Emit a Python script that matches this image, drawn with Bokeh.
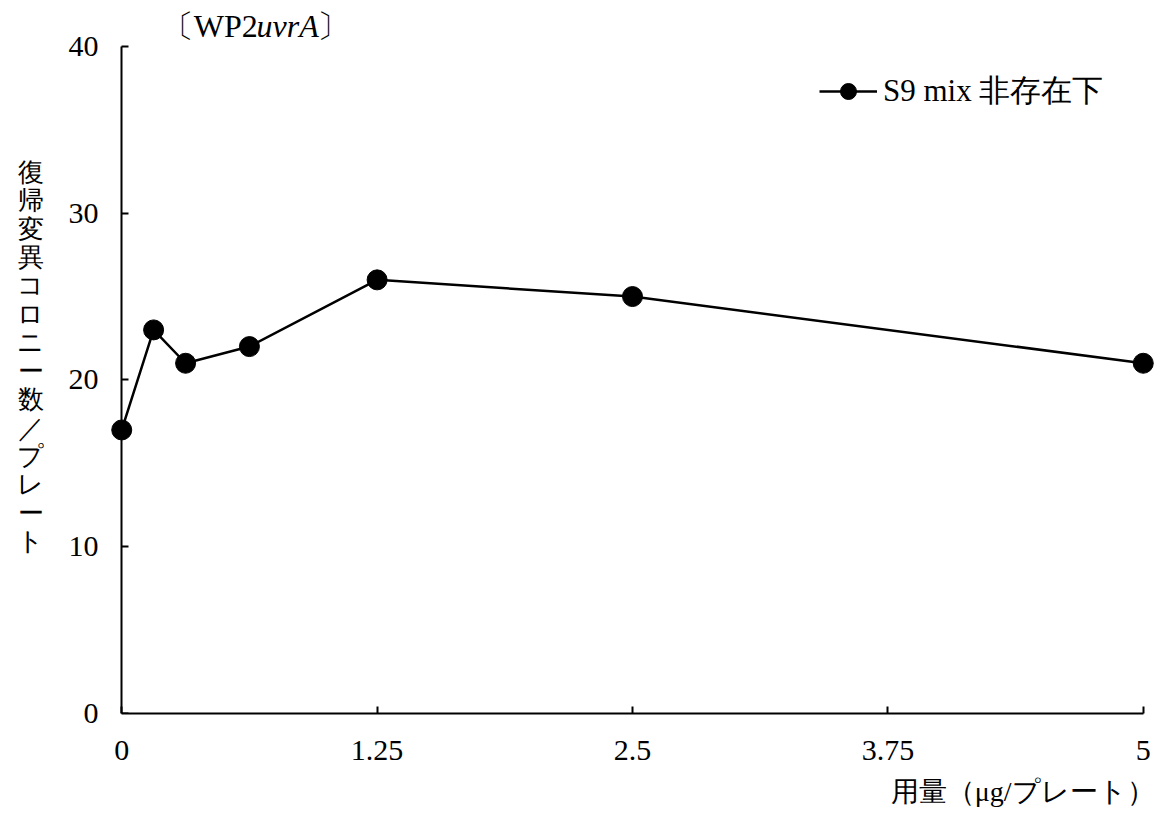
from bokeh.plotting import figure
from bokeh.models import Range1d, Label, Legend, LegendItem, FixedTicker, LinearAxis, Title
from bokeh.embed import file_html
from bokeh.resources import INLINE

# data
dose = [0, 0.156, 0.3125, 0.625, 1.25, 2.5, 5]
colonies = [17, 23, 21, 22, 26, 25, 21]
x_ticks = [0, 1.25, 2.5, 3.75, 5]
x_tick_labels = ["0", "1.25", "2.5", "3.75", "5"]
y_ticks = [0, 10, 20, 30, 40]
series_name = "S9 mix 非存在下"
x_title = "用量（μg/プレート）"
y_title = "復帰変異コロニー数／プレート"

SERIF = "Liberation Serif"

p = figure(width=1158, height=818, output_backend="svg", toolbar_location=None,
           x_range=Range1d(-0.055, 5.055), y_range=Range1d(0, 42.75))
p.min_border = 0
p.min_border_left = 110
p.min_border_right = 4
p.min_border_top = 0
p.min_border_bottom = 104
p.outline_line_color = None
p.grid.visible = False

def style(ax):
    ax.axis_line_color = "black"
    ax.axis_line_width = 2
    ax.major_tick_in = 7
    ax.major_tick_out = 0
    ax.major_tick_line_color = "black"
    ax.major_tick_line_width = 2
    ax.minor_tick_line_color = None
    ax.major_label_text_font = SERIF
    ax.major_label_text_font_size = "30px"
    ax.major_label_text_color = "black"

style(p.xaxis[0])
p.xaxis.ticker = FixedTicker(ticks=x_ticks)
p.xaxis.major_label_overrides = {t: l for t, l in zip(x_ticks, x_tick_labels)}
p.xaxis.bounds = (0, 5)
p.xaxis.major_label_standoff = 27

# left axis: tick labels + title only (outside frame)
ylab = p.yaxis[0]
style(ylab)
ylab.ticker = FixedTicker(ticks=y_ticks)
ylab.bounds = (0, 40)
ylab.axis_line_color = None
ylab.major_tick_line_color = None
ylab.major_label_standoff = 12
ylab.axis_label = "\n".join(y_title)
ylab.axis_label_orientation = "horizontal"
ylab.axis_label_text_font = SERIF
ylab.axis_label_text_font_style = "normal"
ylab.axis_label_text_font_size = "26px"
ylab.axis_label_text_line_height = 0.98
ylab.axis_label_text_color = "black"
ylab.axis_label_standoff = 22

# axis line + ticks at x = 0
yline = LinearAxis(ticker=FixedTicker(ticks=y_ticks), fixed_location=0, bounds=(0, 40))
style(yline)
yline.major_label_overrides = {t: "" for t in y_ticks}
yline.major_label_standoff = 0
p.add_layout(yline, "left")

r_line = p.line(dose, colonies, line_color="black", line_width=2.5)
r_pts = p.scatter(dose, colonies, size=20, fill_color="black", line_color="black")

legend = Legend(items=[LegendItem(label=series_name, renderers=[r_line, r_pts])],
                location=(709, 601), border_line_color=None, background_fill_alpha=0,
                padding=0, margin=0, spacing=0, glyph_width=58, glyph_height=40,
                label_standoff=6, label_text_font=SERIF, label_text_font_size="31px",
                label_text_color="black")
p.add_layout(legend)

# x axis title, right aligned below the axis
p.add_layout(Title(text=x_title, align="right", offset=0, standoff=23,
                   text_font=SERIF, text_font_size="28px", text_font_style="normal",
                   text_color="black"), "below")

# strain title (inside the frame's top margin)
p.add_layout(Label(x=0.196, y=41.2, text="〔WP2", text_align="left", text_baseline="alphabetic",
                   text_font=SERIF, text_font_size="32px", text_color="black"))
p.add_layout(Label(x=0.660, y=41.2, text="uvrA", text_align="left", text_baseline="alphabetic",
                   text_font=SERIF, text_font_size="32px", text_font_style="italic",
                   text_color="black"))
p.add_layout(Label(x=0.955, y=41.2, text="〕", text_align="left", text_baseline="alphabetic",
                   text_font=SERIF, text_font_size="32px", text_color="black"))

open("out.html", "w").write(file_html(p, INLINE))
